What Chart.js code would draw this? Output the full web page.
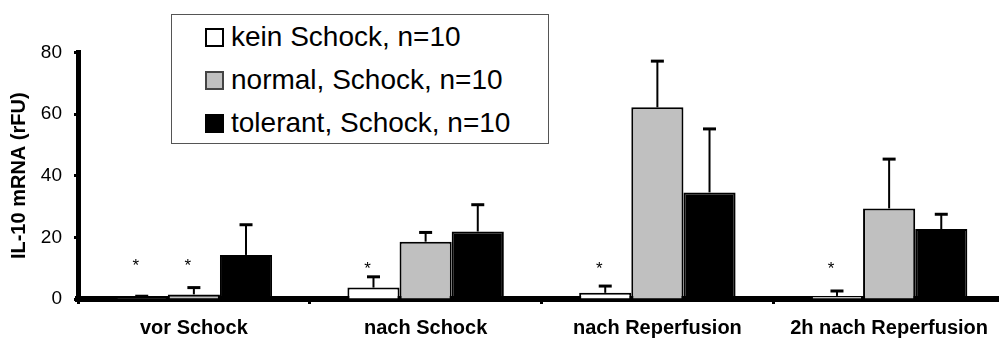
<!DOCTYPE html>
<html>
<head>
<meta charset="utf-8">
<script src="https://cdn.jsdelivr.net/npm/chart.js@4"></script>
<style>
    html, body { margin: 0; padding: 0; background: #fff; overflow: hidden; }
    #wrap { position: relative; width: 999px; height: 339px; overflow: hidden; }
    #legend {
        position: absolute; left: 171px; top: 14px; width: 376px; height: 128px;
        border: 1.5px solid #555; background: #fff;
        font-family: Arial, "Liberation Sans", sans-serif; font-size: 28px; color: #000;
    }
    .row { position: absolute; left: 33px; height: 34px; line-height: 34px; white-space: nowrap; }
    .sw { display: inline-block; width: 15px; height: 15px; border: 2px solid #000; vertical-align: -1px; margin-right: 7px; }
</style>
</head>
<body>
<div id="wrap">
    <canvas id="chart" width="1005" height="339"></canvas>
    <div id="legend"></div>
</div>
<script>
const categories = ['vor Schock', 'nach Schock', 'nach Reperfusion', '2h nach Reperfusion'];
const seriesNames = ['kein Schock, n=10', 'normal, Schock, n=10', 'tolerant, Schock, n=10'];
const keinSchock = [0.3, 3.7, 2.0, 1.0];
const keinSchockErr = [0.6, 3.5, 2.2, 1.6];
const normalSchock = [1.5, 18.6, 62.2, 29.4];
const normalSchockErr = [2.2, 3.0, 15.0, 16.0];
const tolerantSchock = [14.3, 21.9, 34.6, 22.7];
const tolerantSchockErr = [9.8, 8.7, 20.6, 4.8];
const yTicks = [0, 20, 40, 60, 80];
// significance marks: [category index, series index, y level]
const asterisks = [[0, 0, 12], [0, 1, 12], [1, 0, 11], [2, 0, 11], [3, 0, 11]];

const colors = ['#ffffff', '#c0c0c0', '#000000'];
const errors = [keinSchockErr, normalSchockErr, tolerantSchockErr];
const font = 'Arial, "Liberation Sans", sans-serif';

// legend
const legend = document.getElementById('legend');
seriesNames.forEach((name, i) => {
    const row = document.createElement('div');
    row.className = 'row';
    row.style.top = (5 + i * 43) + 'px';
    const sw = document.createElement('span');
    sw.className = 'sw';
    sw.style.background = colors[i];
    if (i === 1) sw.style.borderColor = '#444';
    row.appendChild(sw);
    row.appendChild(document.createTextNode(name));
    legend.appendChild(row);
});

const errorBars = {
    id: 'errorBars',
    afterDatasetsDraw(chart) {
        const ctx = chart.ctx;
        const y = chart.scales.y;
        ctx.save();
        ctx.strokeStyle = '#000';
        chart.data.datasets.forEach((ds, i) => {
            chart.getDatasetMeta(i).data.forEach((bar, j) => {
                const top = y.getPixelForValue(ds.data[j] + errors[i][j]);
                ctx.lineWidth = 2;
                ctx.beginPath();
                ctx.moveTo(bar.x, bar.y);
                ctx.lineTo(bar.x, top);
                ctx.stroke();
                ctx.lineWidth = 3;
                ctx.beginPath();
                ctx.moveTo(bar.x - 6.5, top);
                ctx.lineTo(bar.x + 6.5, top);
                ctx.stroke();
            });
        });
        ctx.fillStyle = '#000';
        ctx.font = '17px ' + font;
        ctx.textAlign = 'center';
        ctx.textBaseline = 'middle';
        asterisks.forEach(([c, s, v]) => {
            const bar = chart.getDatasetMeta(s).data[c];
            ctx.fillText('*', bar.x - 6, y.getPixelForValue(v) + 4);
        });
        ctx.restore();
    }
};

const ctx = document.getElementById('chart').getContext('2d');
new Chart(ctx, {
    type: 'bar',
    data: {
        labels: categories,
        datasets: [keinSchock, normalSchock, tolerantSchock].map((d, i) => ({
            label: seriesNames[i],
            data: d,
            backgroundColor: colors[i],
            borderColor: '#000',
            borderWidth: 2,
            borderSkipped: 'bottom',
            barPercentage: 1,
            categoryPercentage: 0.675
        }))
    },
    options: {
        responsive: false,
        animation: false,
        layout: { padding: { top: 52.5, left: 0, right: 0, bottom: 0 } },
        plugins: { legend: { display: false }, tooltip: { enabled: false } },
        scales: {
            x: {
                grid: { drawOnChartArea: false, drawTicks: true, tickLength: 5, tickWidth: 3, tickColor: '#000', offset: true },
                border: { display: true, width: 6, color: '#000' },
                ticks: {
                    color: '#000', padding: 12, maxRotation: 0, autoSkip: false,
                    font: { family: font, size: 20, weight: 'bold' }
                },
                afterFit(scale) { scale.height = 40; }
            },
            y: {
                min: 0, max: 80,
                afterBuildTicks(scale) { scale.ticks = yTicks.map(v => ({ value: v })); },
                grid: { drawOnChartArea: false, drawTicks: true, tickLength: 4, tickWidth: 3, tickColor: '#000' },
                border: { display: true, width: 5, color: '#000' },
                ticks: {
                    color: '#000', padding: 12,
                    font: { family: font, size: 19 }
                },
                title: {
                    display: true, text: 'IL-10 mRNA (rFU)', color: '#000',
                    padding: { top: 7, bottom: 0 },
                    font: { family: font, size: 20, weight: 'bold' }
                },
                afterFit(scale) { scale.width = 78; }
            }
        }
    },
    plugins: [errorBars]
});
</script>
</body>
</html>
